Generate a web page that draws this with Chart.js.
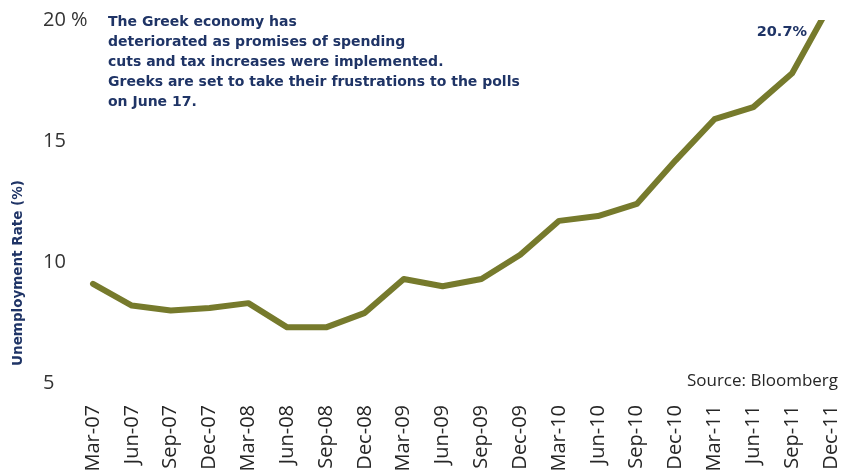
<!DOCTYPE html>
<html>
<head>
<meta charset="utf-8">
<script src="https://cdn.jsdelivr.net/npm/chart.js@4.4.1/dist/chart.umd.min.js"></script>
<style>
    html, body { margin: 0; padding: 0; background: #fff; overflow: hidden; }
    #wrap { width: 842px; height: 472px; position: relative; }
</style>
</head>
<body>
<div id="wrap"><canvas id="grafico"></canvas></div>
<script>
// --- dados ---
const trimestres = ['Mar-07', 'Jun-07', 'Sep-07', 'Dec-07', 'Mar-08', 'Jun-08', 'Sep-08', 'Dec-08',
    'Mar-09', 'Jun-09', 'Sep-09', 'Dec-09', 'Mar-10', 'Jun-10', 'Sep-10', 'Dec-10',
    'Mar-11', 'Jun-11', 'Sep-11', 'Dec-11'];
const desemprego = [9.1, 8.2, 8.0, 8.1, 8.3, 7.3, 7.3, 7.9, 9.3, 9.0, 9.3, 10.3, 11.7, 11.9, 12.4, 14.2,
    15.9, 16.4, 17.8, 20.7];
const ticksY = [5, 10, 15, 20];
const nota = [
    'The Greek economy has',
    'deteriorated as promises of spending',
    'cuts and tax increases were implemented.',
    'Greeks are set to take their frustrations to the polls',
    'on June 17.'
];
const rotuloFinal = '20.7%';
const tituloY = 'Unemployment Rate (%)';
const fonte = 'Source: Bloomberg';

const azul = '#1f3466';
const oliva = '#767a2c';

// textos soltos por cima do gráfico
const textos = {
    id: 'textos',
    afterDraw(chart) {
        const { ctx, scales } = chart;
        ctx.save();

        // nota
        ctx.fillStyle = azul;
        ctx.font = 'bold 14px "DejaVu Sans"';
        ctx.textBaseline = 'middle';
        ctx.textAlign = 'left';
        nota.forEach((linha, i) => ctx.fillText(linha, 108, 22 + i * 20));

        // rótulo do último ponto
        const xUltimo = scales.x.getPixelForValue(trimestres.length - 1);
        ctx.textAlign = 'right';
        ctx.font = 'bold 14.5px "DejaVu Sans"';
        ctx.fillText(rotuloFinal, xUltimo - 24, 32);

        // título do eixo Y
        ctx.save();
        ctx.translate(18, 273);
        ctx.rotate(-Math.PI / 2);
        ctx.textAlign = 'center';
        ctx.font = 'bold 13.5px "DejaVu Sans"';
        ctx.fillText(tituloY, 0, 0);
        ctx.restore();

        // fonte
        ctx.fillStyle = '#262626';
        ctx.font = '17px "Open Sans"';
        ctx.textAlign = 'right';
        ctx.fillText(fonte, 838, 381);

        ctx.restore();
    }
};

new Chart(document.getElementById('grafico'), {
    type: 'line',
    data: {
        labels: trimestres,
        datasets: [{
            data: desemprego,
            borderColor: oliva,
            borderWidth: 6,
            borderCapStyle: 'round',
            borderJoinStyle: 'round',
            pointRadius: 0,
            tension: 0,
            clip: { left: 6, right: 6, top: 0, bottom: 6 }
        }]
    },
    options: {
        responsive: true,
        maintainAspectRatio: false,
        animation: false,
        devicePixelRatio: 1,
        layout: { padding: { left: 43, right: 11, top: 20, bottom: 0 } },
        plugins: { legend: { display: false }, tooltip: { enabled: false } },
        scales: {
            x: {
                offset: false,
                grid: { display: false, drawTicks: false },
                border: { display: false },
                ticks: {
                    autoSkip: false,
                    minRotation: 90,
                    maxRotation: 90,
                    padding: 22,
                    color: '#262626',
                    font: { family: 'Open Sans', size: 20 }
                },
                afterFit: s => {
                    s.height = 89;
                    s.paddingLeft = 0;
                    s.paddingRight = 0;
                }
            },
            y: {
                min: 5,
                max: 20,
                grid: { display: false, drawTicks: false },
                border: { display: false },
                afterBuildTicks: s => { s.ticks = ticksY.map(v => ({ value: v })); },
                ticks: {
                    crossAlign: 'far',
                    color: '#333333',
                    font: { family: 'Open Sans', size: 20 },
                    callback: v => v === 20 ? '20 %' : v
                },
                afterFit: s => { s.width = 50; }
            }
        }
    },
    plugins: [textos]
});
</script>
</body>
</html>
